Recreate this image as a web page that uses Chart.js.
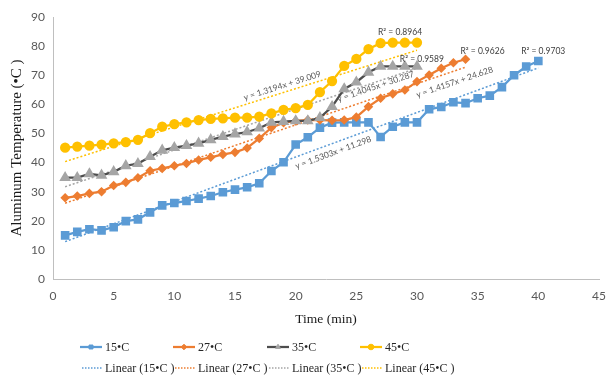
<!DOCTYPE html>
<html><head><meta charset="utf-8">
<script src="https://cdn.jsdelivr.net/npm/chart.js@4.4.1/dist/chart.umd.min.js"></script>
<style>html,body{margin:0;padding:0;background:#fff;}#wrap{width:606px;height:377px;}</style>
</head><body><div id="wrap"><canvas id="c" width="606" height="377"></canvas></div>
<script>
// ---- data ----
const seriesNames = ['15•C', '27•C', '35•C', '45•C'];
const time15 = [1,2,3,4,5,6,7,8,9,10,11,12,13,14,15,16,17,18,19,20,21,22,23,24,25,26,27,28,29,30,31,32,33,34,35,36,37,38,39,40];
const temp15 = [15.0,16.2,17.1,16.7,17.8,19.9,20.5,22.9,25.3,26.1,26.8,27.6,28.5,29.8,30.7,31.5,32.9,37.1,40.1,46.2,48.7,52.0,53.7,53.8,53.8,53.8,48.8,52.3,53.8,53.8,58.3,59.1,60.7,60.4,62.1,63.0,65.9,70.0,73.0,74.9];
const time27 = [1,2,3,4,5,6,7,8,9,10,11,12,13,14,15,16,17,18,19,20,21,22,23,24,25,26,27,28,29,30,31,32,33,34];
const temp27 = [27.9,28.5,29.4,30.0,32.1,33.2,34.8,37.2,38.0,38.9,39.7,40.9,41.8,42.8,43.5,45.0,48.3,52.0,53.7,54.3,54.6,54.6,54.5,54.6,55.6,59.2,62.1,63.6,64.9,67.8,70.1,72.4,74.3,75.5];
const time35 = [1,2,3,4,5,6,7,8,9,10,11,12,13,14,15,16,17,18,19,20,21,22,23,24,25,26,27,28,29,30];
const temp35 = [34.8,34.8,36.1,35.6,36.8,38.9,39.6,42.0,44.2,45.1,45.8,46.6,47.8,48.9,49.8,50.5,51.8,53.8,54.1,54.3,54.3,55.4,59.2,65.3,67.6,71.0,73.0,73.0,73.0,73.0];
const time45 = [1,2,3,4,5,6,7,8,9,10,11,12,13,14,15,16,17,18,19,20,21,22,23,24,25,26,27,28,29,30];
const temp45 = [45.1,45.5,45.8,46.2,46.6,47.0,47.8,50.1,52.3,53.2,53.8,54.6,55.0,55.2,55.4,55.4,55.8,56.9,58.1,58.7,59.8,64.2,68.0,73.2,75.6,79.0,81.0,81.2,81.2,81.2];
// linear trendlines as printed on the chart (slope) and their end points
const trendSlope = [1.5303, 1.4157, 1.4045, 1.3194];
const trendStartX = [1, 1, 1, 1];
const trendEndX = [40, 34, 30, 30];
const trendStartY = [12.83, 26.04, 31.69, 40.33];
const trendEndY = [72.51, 72.76, 72.42, 78.59];
const r2Values = ['0.9703', '0.9626', '0.9589', '0.8964'];
const eqTexts = ['y = 1.5303x + 11.298', 'y = 1.4157x + 24.628', 'y = 1.4045x + 30.287', 'y = 1.3194x + 39.009'];
const xTicksMax = 45, yTicksMax = 90;

// ---- styles ----
const lineColors = ['#5B9BD5', '#ED7D31', '#4D4D4D', '#FFC000'];
const markerColors = ['#5B9BD5', '#ED7D31', '#A5A5A5', '#FFC000'];
const trendColors = ['#5B9BD5', '#ED7D31', '#A5A5A5', '#FFC000'];
const markerStyles = ['rect', 'rectRot', 'triangle', 'circle'];
const markerRadius = [4.5, 3.2, 4.5, 4];
// label anchors (data units) for equation and R² texts
const eqAnchor = [[23.1, 43.4], [33.1, 67.6], [26.6, 66.1], [18.9, 66.4]];
const r2Anchor = [[40.4, 78.2], [35.4, 78.2], [30.4, 75.6], [28.6, 84.8]];

const times = [time15, time27, time35, time45];
const temps = [temp15, temp27, temp35, temp45];

const datasets = [];
for (let i = 0; i < 4; i++) {
  datasets.push({
    label: seriesNames[i],
    data: times[i].map((t, k) => ({x: t, y: temps[i][k]})),
    showLine: true,
    borderColor: lineColors[i],
    backgroundColor: markerColors[i],
    pointBorderColor: markerColors[i],
    pointBackgroundColor: markerColors[i],
    borderWidth: 2.25,
    pointStyle: markerStyles[i],
    pointRadius: markerRadius[i],
    pointHoverRadius: markerRadius[i],
    order: 4 - i
  });
}
for (let i = 0; i < 4; i++) {
  datasets.push({
    label: 'Linear (' + seriesNames[i] + ' )',
    data: [{x: trendStartX[i], y: trendStartY[i]}, {x: trendEndX[i], y: trendEndY[i]}],
    showLine: true,
    borderColor: trendColors[i],
    borderWidth: 1.5,
    borderDash: [2, 2],
    pointRadius: 0,
    order: 10 + i
  });
}

const tickFont = {family: 'Lato, "Open Sans", sans-serif', size: 12};

const annotPlugin = {
  id: 'annot',
  afterDatasetsDraw(chart) {
    const ctx = chart.ctx, xs = chart.scales.x, ys = chart.scales.y;
    const pxPerX = xs.getPixelForValue(1) - xs.getPixelForValue(0);
    const pxPerY = ys.getPixelForValue(0) - ys.getPixelForValue(1);
    ctx.save();
    for (let i = 0; i < 4; i++) {
      const ang = -Math.atan(trendSlope[i] * pxPerY / pxPerX);
      ctx.save();
      ctx.translate(xs.getPixelForValue(eqAnchor[i][0]), ys.getPixelForValue(eqAnchor[i][1]));
      ctx.rotate(ang);
      ctx.font = '8.5px Lato, "Open Sans", sans-serif';
      ctx.fillStyle = '#595959';
      ctx.textAlign = 'center';
      ctx.textBaseline = 'middle';
      ctx.fillText(eqTexts[i], 0, 0);
      ctx.restore();
      ctx.font = '8.5px Lato, "Open Sans", sans-serif';
      ctx.fillStyle = '#404040';
      ctx.textAlign = 'center';
      ctx.textBaseline = 'middle';
      ctx.fillText('R² = ' + r2Values[i], xs.getPixelForValue(r2Anchor[i][0]), ys.getPixelForValue(r2Anchor[i][1]));
    }
    ctx.restore();
  }
};

const legendPlugin = {
  id: 'customLegend',
  afterDraw(chart) {
    const ctx = chart.ctx;
    const colX = [80, 173, 267, 360];
    const rowY = [347, 368];
    ctx.save();
    ctx.font = '12px "Liberation Serif", "Times New Roman", serif';
    ctx.textBaseline = 'middle';
    ctx.textAlign = 'left';
    for (let i = 0; i < 4; i++) {
      const ds = chart.data.datasets[i];
      const x = colX[i], y = rowY[0];
      ctx.strokeStyle = lineColors[i];
      ctx.lineWidth = 2.25;
      ctx.setLineDash([]);
      ctx.beginPath(); ctx.moveTo(x, y); ctx.lineTo(x + 22, y); ctx.stroke();
      ctx.fillStyle = markerColors[i];
      ctx.strokeStyle = markerColors[i];
      ctx.lineWidth = 1;
      Chart.helpers.drawPoint(ctx, {pointStyle: markerStyles[i], radius: 2.8, borderWidth: 1, rotation: 0}, x + 11, y);
      ctx.fillStyle = '#262626';
      ctx.fillText(ds.label, x + 25, y + 1);
      const y2 = rowY[1];
      ctx.strokeStyle = trendColors[i];
      ctx.lineWidth = 1.3;
      ctx.setLineDash([1.5, 1.5]);
      ctx.beginPath(); ctx.moveTo(x + 2, y2); ctx.lineTo(x + 22, y2); ctx.stroke();
      ctx.setLineDash([]);
      ctx.fillStyle = '#262626';
      ctx.fillText(chart.data.datasets[4 + i].label, x + 25, y2 + 1);
    }
    ctx.restore();
  }
};

new Chart(document.getElementById('c'), {
  type: 'scatter',
  data: {datasets},
  options: {
    responsive: false,
    animation: false,
    devicePixelRatio: 1,
    layout: {padding: {left: 0, right: 7, top: 17, bottom: 49}},
    plugins: {legend: {display: false}, tooltip: {enabled: false}},
    scales: {
      x: {
        type: 'linear', min: 0, max: xTicksMax,
        ticks: {stepSize: 5, color: '#595959', font: tickFont, padding: 10},
        grid: {display: false, drawTicks: false},
        border: {display: true, color: '#BFBFBF', width: 1},
        title: {display: true, text: 'Time (min)', color: '#1a1a1a', font: {family: '"Liberation Serif", "Times New Roman", serif', size: 13.5}, padding: {top: 0, bottom: 0}},
        afterFit(s) { s.height = 49; s.paddingLeft = 0; s.paddingRight = 0; }
      },
      y: {
        type: 'linear', min: 0, max: yTicksMax,
        ticks: {stepSize: 10, color: '#595959', font: tickFont, padding: 8},
        grid: {display: false, drawTicks: false},
        border: {display: true, color: '#BFBFBF', width: 1},
        title: {display: true, text: 'Aluminum Temperature (•C )', color: '#1a1a1a', font: {family: '"Liberation Serif", "Times New Roman", serif', size: 15}, padding: {top: 8, bottom: 0}},
        afterFit(s) { s.width = 53; s.paddingTop = 0; s.paddingBottom = 0; }
      }
    }
  },
  plugins: [annotPlugin, legendPlugin]
});
</script></body></html>
